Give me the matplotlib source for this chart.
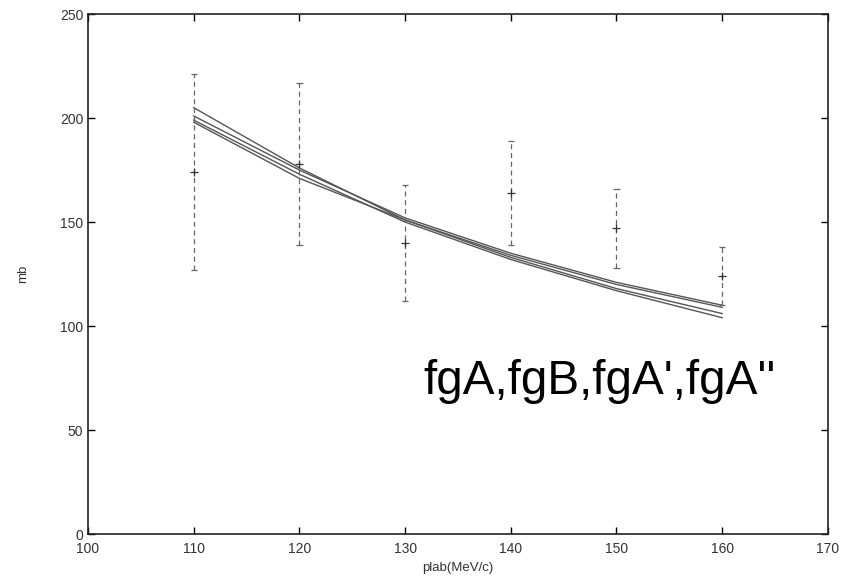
import numpy as np
import matplotlib.pyplot as plt

plt.rcParams['font.family'] = ['Liberation Sans', 'DejaVu Sans']

# momentum points (MeV/c)
plab = [110, 120, 130, 140, 150, 160]

# measured cross sections with error limits
sigma = [174, 178, 140, 164, 147, 124]
sigma_lo = [127, 139, 112, 139, 128, 110]
sigma_hi = [221, 217, 168, 189, 166, 138]

# model curves
fgA = [205, 176, 151, 133, 118, 106]
fgB = [201, 175, 152, 135, 121, 110]
fgA1 = [199, 173, 150, 132, 117, 104]
fgA2 = [198, 171, 151, 134, 120, 109]

fig = plt.figure(figsize=(8.57, 5.86), dpi=100)
ax = fig.add_axes([0.1027, 0.0887, 0.8633, 0.8873])

for curve in (fgA, fgB, fgA1, fgA2):
    ax.plot(plab, curve, color='#555555', lw=1.0)

x = np.array(plab)
y = np.array(sigma)
ax.vlines(x, sigma_lo, sigma_hi, colors='#666666', linestyles=(0, (4, 3)), lw=0.9)
ax.hlines(sigma_lo, x - 0.3, x + 0.3, colors='#666666', lw=0.9)
ax.hlines(sigma_hi, x - 0.3, x + 0.3, colors='#666666', lw=0.9)
ax.plot(x, y, '+', color='#333333', ms=6, mew=0.9)

ax.text(131.7, 73.5, "fgA,fgB,fgA',fgA''", fontsize=34.3, va='center', ha='left')

ax.set_xlim(100, 170)
ax.set_ylim(0, 250)
ax.set_xticks(range(100, 171, 10))
ax.set_yticks(range(0, 251, 50))
ax.tick_params(direction='in', top=True, right=True, length=5, width=1,
               labelsize=10, labelcolor='#333333')
ax.tick_params(axis='x', pad=6)
ax.set_xlabel('plab(MeV/c)', fontsize=9.5, color='#333333')
ax.set_ylabel('mb', fontsize=9.5, color='#333333', labelpad=22)
for s in ax.spines.values():
    s.set_linewidth(1.2)
    s.set_color('#222222')

fig.savefig('out.png', dpi=100)
